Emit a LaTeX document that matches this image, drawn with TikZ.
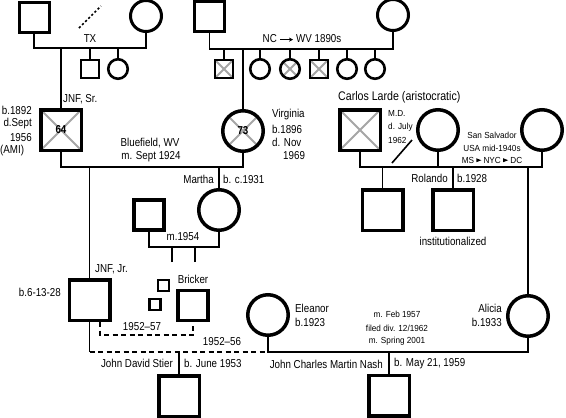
\documentclass[tikz,border=0pt]{standalone}
\usepackage{fontspec}
\usetikzlibrary{arrows.meta}
\setmainfont[FakeStretch=0.85]{Liberation Sans}
\newfontfamily\smf[FakeStretch=0.93]{Liberation Sans}
\begin{document}
\begin{tikzpicture}[x=1pt,y=-1pt,
  conn/.style={line width=1.6pt},
  dsh/.style={line width=1.6pt, dash pattern=on 5pt off 3.5pt},
  bigsq/.style={draw, rectangle, line width=3.5pt, minimum width=40.5pt, minimum height=40.5pt, inner sep=0pt},
  bigci/.style={draw, circle, line width=3.5pt, minimum size=40.5pt, inner sep=0pt},
  topsq/.style={draw, rectangle, line width=3pt, minimum size=30pt, inner sep=0pt},
  topci/.style={draw, circle, line width=3pt, minimum size=31pt, inner sep=0pt},
  smsq/.style={draw, rectangle, line width=2.6pt, minimum size=18pt, inner sep=0pt},
  smci/.style={draw, circle, line width=2.6pt, minimum size=19.5pt, inner sep=0pt},
  midsq/.style={draw, rectangle, line width=3.2pt, minimum size=30pt, inner sep=0pt},
  tinysq/.style={draw, rectangle, line width=2.4pt, minimum size=11pt, inner sep=0pt},
  crossed/.style={path picture={\draw[black!35, line width=1.8pt]
     (path picture bounding box.south west) -- (path picture bounding box.north east)
     (path picture bounding box.north west) -- (path picture bounding box.south east);}},
  lab/.style={inner sep=0pt, font=\fontsize{11.5}{13}\selectfont},
  slab/.style={inner sep=0pt, font=\smf\fontsize{8.8}{10}\selectfont},
  num/.style={font=\bfseries\fontsize{11.5}{13}\selectfont}
]
\useasboundingbox (0,0) rectangle (566,418);

% ---- top left family
\node[topsq] (gfA) at (34,17) {};
\node[topci] (gmA) at (146,16) {};
\coordinate (mA) at (90,48);
\draw[conn] (gfA.south) |- (mA) -| (gmA.south);
\node[smsq] (cA1) at (90,69) {};
\node[smci] (cA2) at (118,69) {};
\draw[conn] (cA1.north) -- (cA1.north |- mA);
\draw[conn] (cA2.north) -- (cA2.north |- mA);
\coordinate (dt1) at (79,28);
\coordinate (dt2) at (101,6);
\draw[line width=1.6pt, dash pattern=on 2.2pt off 2.2pt] (dt1) -- (dt2);
\node[lab] (tx) at (90,39) {TX};

% ---- top middle family
\node[topsq] (gfB) at (209.5,16.5) {};
\node[topci] (gmB) at (393,15) {};
\coordinate (mM) at (300,49);
\draw[conn] (gfB.south) |- (mM) -| (gmB.south);
\node[smsq,crossed] (cB1) at (224,69) {};
\node[smci] (cB2) at (260,69) {};
\node[smci,crossed] (cB3) at (290,69) {};
\node[smsq,crossed] (cB4) at (319,69) {};
\node[smci] (cB5) at (347,69) {};
\node[smci] (cB6) at (375,69) {};
\foreach \c in {cB1,cB2,cB3,cB4,cB5,cB6} \draw[conn] (\c.north) -- (\c.north |- mM);
\node[lab] (nc) at (302,39) {NC \tikz[baseline=-0.55ex]\draw[line width=0.9pt,-{Stealth[length=4pt,width=4pt]}] (0,0) -- (13pt,0); WV 1890s};

% ---- JNF Sr and Virginia
\node[bigsq,crossed] (jnfs) at (61,130) {};
\node[num] at (jnfs.center) {64};
\draw[conn] (jnfs.north) -- (jnfs.north |- mA);
\node[bigci,crossed] (virg) at (243,131) {};
\node[num] at (virg.center) {73};
\draw[conn] (virg.north) -- (virg.north |- mM);
\node[lab, anchor=west] (jsl) at (63,99) {JNF, Sr.};
\node[lab, anchor=east] (jsb) at (32,110) {b.1892};
\node[lab, anchor=east] (jsd) at (32,124) {d.Sept};
\node[lab, anchor=east] (jsy) at (32,138) {1956};
\node[lab, anchor=west] (jsa) at (0,151) {(AMI)};
\node[lab, anchor=west] (vl1) at (272,115) {Virginia};
\node[lab, anchor=west] (vl2) at (272,129) {b.1896};
\node[lab, anchor=west] (vl3) at (272,142) {d. Nov};
\node[lab, anchor=west] (vl4) at (283,156) {1969};
\node[lab] (blu) at (150,143) {Bluefield, WV};
\node[lab] (msep) at (151,157) {m. Sept 1924};
\coordinate (mB) at (150,167);
\draw[conn] (jnfs.south) |- (mB) -| (virg.south);

% ---- Martha
\node[bigci] (martha) at (219,210) {};
\draw[conn] (martha.north) -- (martha.north |- mB);
\node[lab, anchor=east] (mal) at (214,179) {Martha};
\node[lab, anchor=west] (mab) at (223,179) {b. c.1931};
\node[midsq] (mhus) at (149,215) {};
\coordinate (mC) at (183,247);
\draw[conn] (mhus.south) |- (mC) -| (martha.south);
\node[lab] (m54) at (183,237) {m.1954};
\coordinate (k1) at (172,262);
\coordinate (k2) at (195,262);
\draw[conn] (k1) -- (k1 |- mC);
\draw[conn] (k2) -- (k2 |- mC);

% ---- JNF Jr and Bricker
\node[bigsq] (jnfj) at (89.5,300) {};
\draw[conn] (jnfj.north) -- (jnfj.north |- mB);
\node[lab, anchor=west] (jjl) at (95,269) {JNF, Jr.};
\node[lab, anchor=east] (jjb) at (61,292) {b.6-13-28};
\node[tinysq] (t1) at (163.5,285.5) {};
\node[tinysq] (t2) at (155,304.5) {};
\node[midsq] (brick) at (193,305.5) {};
\node[lab] (bril) at (193,279) {Bricker};
\coordinate (d1) at (100,335);
\draw[dsh] (d1 |- jnfj.south) -- (d1) -| (brick.south);
\node[lab] (y57) at (142,327) {1952--57};

% ---- Eleanor, Alicia, marriage line
\node[bigci] (elea) at (268,315) {};
\node[bigci] (alic) at (528,316) {};
\coordinate (mD) at (300,352);
\draw[conn] (jnfj.south) -- (jnfj.south |- mD);
\draw[dsh] (jnfj.south |- mD) -- (elea.south |- mD);
\draw[conn] (elea.south) |- (mD) -| (alic.south);
\node[lab] (y56) at (222,342) {1952--56};
\node[lab, anchor=west] (el1) at (295,308) {Eleanor};
\node[lab, anchor=west] (el2) at (295,322) {b.1923};
\node[lab, anchor=east] (al1) at (502,308) {Alicia};
\node[lab, anchor=east] (al2) at (502,322) {b.1933};
\node[slab] (mf1) at (397,314) {m. Feb 1957};
\node[slab] (mf2) at (397,328) {filed div. 12/1962};
\node[slab] (mf3) at (397,341) {m. Spring 2001};

% ---- children at bottom
\node[bigsq] (stier) at (179,396) {};
\draw[conn] (stier.north) -- (stier.north |- mD);
\node[lab, anchor=east] (stl) at (173,363) {John David Stier};
\node[lab, anchor=west] (stb) at (184,363) {b. June 1953};
\node[bigsq] (nash) at (389,395.5) {};
\draw[conn] (nash.north) -- (nash.north |- mD);
\node[lab, anchor=east] (nal) at (383,364) {John Charles Martin Nash};
\node[lab, anchor=west] (nab) at (394,364) {b. May 21, 1959};

% ---- Carlos Larde family
\node[bigsq,crossed] (carlos) at (360,130) {};
\node[bigci] (cwife) at (438,130) {};
\node[bigci] (rc) at (542,130) {};
\node[lab, anchor=west, font=\fontsize{12.5}{14}\selectfont] (cll) at (338,97) {Carlos Larde (aristocratic)};
\node[slab, anchor=west] (md1) at (388,113) {M.D.};
\node[slab, anchor=west] (md2) at (388,127) {d. July};
\node[slab, anchor=west] (md3) at (388,140) {1962};
\coordinate (mE) at (450,167);
\draw[conn] (carlos.south) |- (mE) -| (rc.south);
\draw[conn] (cwife.south) -- (cwife.south |- mE);
\coordinate (sl1) at (392,163);
\coordinate (sl2) at (412,140);
\draw[conn] (sl1) -- (sl2);
\node[slab] (ss1) at (492,135) {San Salvador};
\node[slab] (ss2) at (492,148) {USA mid-1940s};
\node[slab] (ss3) at (492,160) {MS \tikz[baseline=-0.6ex]\fill (0,-2pt) -- (5pt,0) -- (0,2pt) -- cycle; NYC \tikz[baseline=-0.6ex]\fill (0,-2pt) -- (5pt,0) -- (0,2pt) -- cycle; DC};
\node[bigsq] (cs1) at (382.5,210) {};
\node[bigsq] (rol) at (453,210) {};
\draw[conn] (cs1.north) -- (cs1.north |- mE);
\draw[conn] (rol.north) -- (rol.north |- mE);
\node[lab, anchor=east] (rll) at (448,178) {Rolando};
\node[lab, anchor=west] (rlb) at (457,178) {b.1928};
\node[lab] (inst) at (453,241) {institutionalized};
\draw[conn] (alic.north) -- (alic.north |- mE);
\end{tikzpicture}
\end{document}
